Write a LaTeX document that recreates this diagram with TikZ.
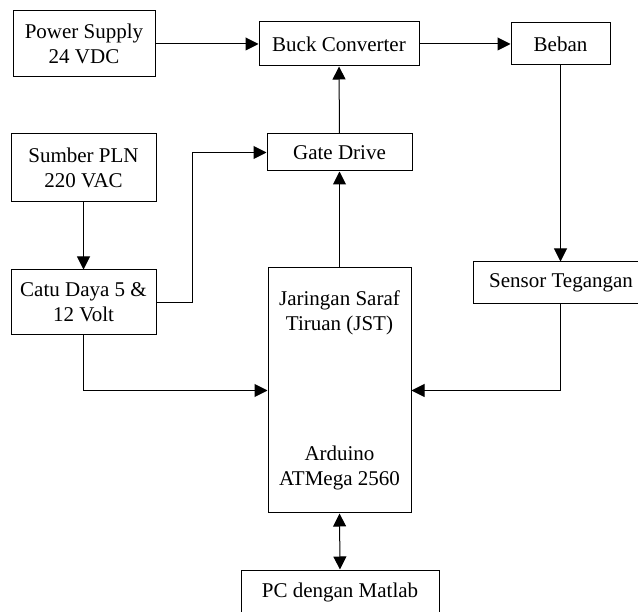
\documentclass[tikz,border=0pt]{standalone}
\usepackage{fontspec}
\setmainfont{Liberation Serif}
\usetikzlibrary{arrows.meta}
\begin{document}
\begin{tikzpicture}[x=1pt,y=-1pt,
  box/.style={draw=black,line width=1pt,rectangle,align=center,inner sep=0pt,
    font=\fontsize{21}{25}\selectfont},
  lbl/.style={align=center,inner sep=0pt,font=\fontsize{21}{25}\selectfont},
  conn/.style={line width=1pt,-{Triangle[length=13pt,width=13pt]}},
  bicon/.style={line width=1pt,{Triangle[length=13pt,width=13pt]}-{Triangle[length=13pt,width=13pt]}}]
\useasboundingbox (0,0) rectangle (638,612);
\node[box,minimum width=142pt,minimum height=66pt] (power) at (84,44) {Power Supply\\24 VDC};
\node[box,minimum width=160pt,minimum height=44pt] (buck) at (339,44) {Buck Converter};
\node[box,minimum width=99pt,minimum height=42pt] (beban) at (560.5,44) {Beban};
\node[box,minimum width=145pt,minimum height=68pt] (pln) at (83.5,168) {Sumber PLN\\220 VAC};
\node[box,minimum width=145pt,minimum height=37pt] (gate) at (339.5,152.5) {Gate Drive};
\node[box,minimum width=145pt,minimum height=65pt] (catu) at (83.5,302.5) {Catu Daya 5 \&\\12 Volt};
\node[box,minimum width=143pt,minimum height=245pt] (jst) at (339.5,390.5) {};
\node[lbl] (jsttxt) at (339.5,312.5) {Jaringan Saraf\\Tiruan (JST)};
\node[lbl] (ardtxt) at (339.5,467.5) {Arduino\\ATMega 2560};
\node[box,minimum width=176pt,minimum height=42pt] (sensor) at (561,283) {Sensor Tegangan};
\node[box,minimum width=198pt,minimum height=44pt] (pc) at (340,592) {PC dengan Matlab};
\draw[conn] (power.east) -- (buck.west);
\draw[conn] (buck.east) -- (beban.west);
\draw[conn] (gate.north) -- (buck.south);
\draw[conn] (jst.north) -- (gate.south);
\draw[conn] (pln.south) -- (catu.north);
\draw[conn] (catu.east) -- ++(36,0) |- (gate.west);
\draw[conn] (catu.south) |- (jst.west);
\draw[conn] (beban.south) -- (beban.south |- sensor.north);
\draw[conn] (beban.south |- sensor.south) |- (jst.east);
\draw[bicon] (jst.south) -- (pc.north);
\end{tikzpicture}
\end{document}
